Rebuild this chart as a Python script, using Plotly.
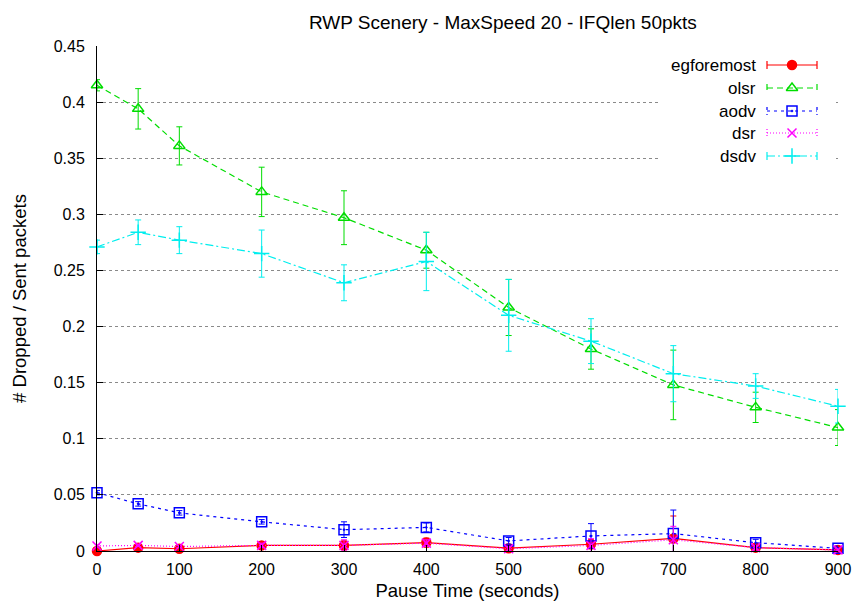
import plotly.graph_objects as go

pause_time = [0, 50, 100, 200, 300, 400, 500, 600, 700, 800, 900]

egforemost = [0.000, 0.003, 0.002, 0.005, 0.005, 0.0075, 0.0025, 0.006, 0.0112, 0.003, 0.001]
egforemost_err = [0.001, 0.001, 0.001, 0.002, 0.004, 0.004, 0.002, 0.004, 0.020, 0.002, 0.001]

olsr = [0.415, 0.394, 0.361, 0.320, 0.297, 0.268, 0.217, 0.180, 0.148, 0.128, 0.110]
olsr_err = [0.005, 0.018, 0.017, 0.022, 0.024, 0.016, 0.025, 0.018, 0.031, 0.0135, 0.016]

aodv = [0.052, 0.042, 0.034, 0.026, 0.019, 0.021, 0.009, 0.0134, 0.0155, 0.0074, 0.0024]
aodv_err = [0.002, 0.002, 0.002, 0.002, 0.007, 0.004, 0.003, 0.011, 0.021, 0.003, 0.002]

dsr = [0.0045, 0.005, 0.004, 0.005, 0.005, 0.007, 0.002, 0.005, 0.010, 0.003, 0.001]
dsr_err = [0.001, 0.001, 0.001, 0.002, 0.005, 0.003, 0.002, 0.006, 0.012, 0.002, 0.001]

dsdv = [0.271, 0.284, 0.277, 0.265, 0.239, 0.258, 0.210, 0.187, 0.158, 0.147, 0.129]
dsdv_err = [0.006, 0.011, 0.012, 0.021, 0.016, 0.026, 0.032, 0.020, 0.025, 0.011, 0.015]

x_ticks = [0, 100, 200, 300, 400, 500, 600, 700, 800, 900]
y_ticks = [0, 0.05, 0.1, 0.15, 0.2, 0.25, 0.3, 0.35, 0.4, 0.45]

series = [
    ("egforemost", egforemost, egforemost_err, "#ff0000", "solid", "circle", 9),
    ("olsr", olsr, olsr_err, "#00dd00", "6px,4px", "triangle-up-open", 10),
    ("aodv", aodv, aodv_err, "#0000ff", "3px,4px", "square-open-dot", 10),
    ("dsr", dsr, dsr_err, "#ff00ff", "1px,2px", "x-thin-open", 9),
    ("dsdv", dsdv, dsdv_err, "#00eeee", "8px,3px,2px,3px", "cross-thin-open", 11),
]

FONT = "Liberation Sans, Arial, Helvetica, sans-serif"
fig = go.Figure()

for name, vals, errs, color, dash, sym, size in series:
    fig.add_trace(go.Scatter(
        x=pause_time, y=vals, mode="lines+markers", name=name,
        line=dict(color=color, width=1.2, dash=dash),
        marker=dict(symbol=sym, size=size, color=color,
                    line=dict(color=color, width=1.5)),
        error_y=dict(type="data", array=errs, visible=True, color=color,
                     thickness=1, width=3),
        cliponaxis=False, showlegend=False, hoverinfo="skip",
    ))

# custom gnuplot-style key on an overlay pixel frame
fig.add_trace(go.Scatter(
    x=[660, 836, 836, 660, 660], y=[55, 55, 167, 167, 55],
    xaxis="x2", yaxis="y2", mode="lines", fill="toself",
    fillcolor="white", line=dict(width=0, color="white"),
    showlegend=False, hoverinfo="skip",
))
row_y = [65, 88, 111, 133, 156]
for (name, vals, errs, color, dash, sym, size), ry in zip(series, row_y):
    x0, x1 = 767, 817
    fig.add_trace(go.Scatter(
        x=[x0, x0, None, x0, x1, None, x1, x1],
        y=[ry - 4, ry + 4, None, ry, ry, None, ry - 4, ry + 4],
        xaxis="x2", yaxis="y2", mode="lines",
        line=dict(color=color, width=1.2, dash=dash),
        showlegend=False, hoverinfo="skip",
    ))
    fig.add_trace(go.Scatter(
        x=[(x0 + x1) / 2], y=[ry], xaxis="x2", yaxis="y2", mode="markers",
        marker=dict(symbol=sym, size=size, color=color,
                    line=dict(color=color, width=1.5)),
        showlegend=False, hoverinfo="skip",
    ))
    fig.add_annotation(x=758, y=ry, xref="x2", yref="y2", text=name,
                       showarrow=False, xanchor="right", yanchor="middle",
                       font=dict(family=FONT, size=17, color="black"))

fig.update_layout(
    width=858, height=605,
    margin=dict(l=97, r=20, t=46, b=54, autoexpand=False),
    paper_bgcolor="white", plot_bgcolor="white",
    font=dict(family=FONT, size=16, color="black"),
    title=dict(text="RWP Scenery - MaxSpeed 20 - IFQlen 50pkts",
               x=470 / 858, xref="paper", xanchor="center",
               y=1 - 22 / 605, yref="container", yanchor="middle",
               font=dict(family=FONT, size=19, color="black")),
    xaxis=dict(range=[0, 900], tickvals=x_ticks, showgrid=False,
               zeroline=False, showline=True, linecolor="black", linewidth=1,
               ticks="inside", ticklen=6, tickcolor="black",
               tickfont=dict(size=16), ticklabelstandoff=4, automargin=False,
               title=dict(text="Pause Time (seconds)", standoff=6,
                          font=dict(size=18.5))),
    yaxis=dict(range=[0, 0.45], tickvals=y_ticks, showgrid=True,
               gridcolor="#8a8a8a", griddash="dot", gridwidth=1,
               zeroline=False, showline=True, linecolor="black", linewidth=1,
               ticks="inside", ticklen=6, tickcolor="black",
               tickfont=dict(size=16), ticklabelstandoff=8, automargin=False,
               title=dict(text="# Dropped / Sent packets", standoff=22,
                          font=dict(size=18.5))),
    xaxis2=dict(overlaying="x", range=[97, 838], visible=False, fixedrange=True),
    yaxis2=dict(overlaying="y", range=[551, 46], visible=False, fixedrange=True),
)

fig.write_html("out.html")
